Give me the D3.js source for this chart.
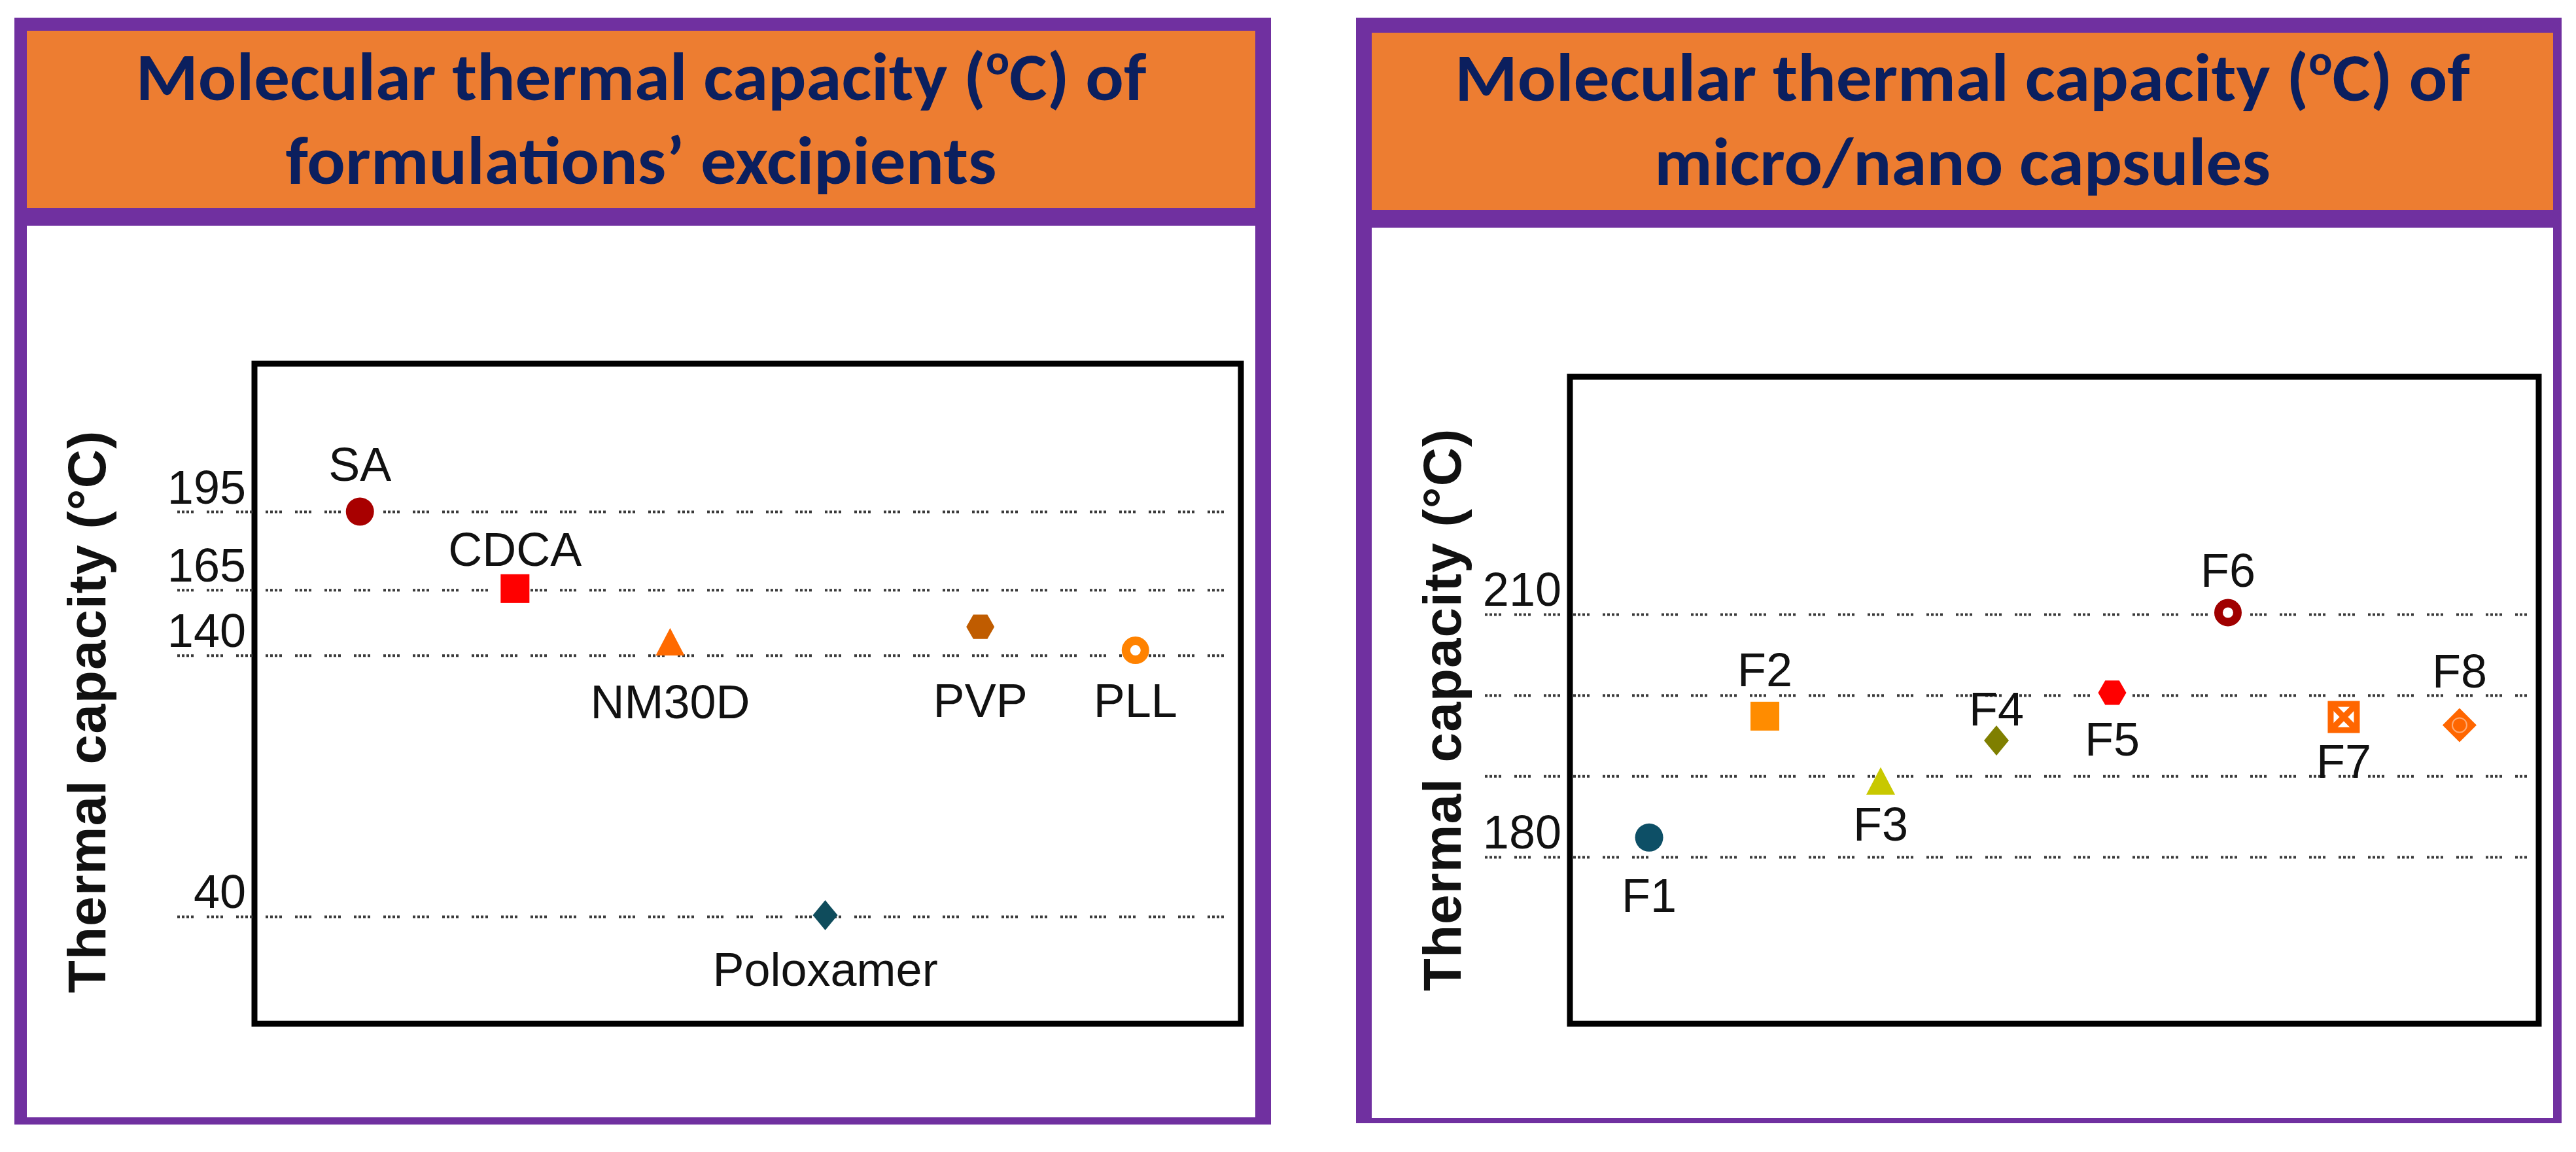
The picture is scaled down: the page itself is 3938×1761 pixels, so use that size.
<!DOCTYPE html>
<html>
<head>
<meta charset="utf-8">
<script src="https://cdn.jsdelivr.net/npm/d3@7"></script>
<style>
  body { margin: 0; background: #fff; }
  svg { display: block; }
</style>
</head>
<body>
<div id="chart"></div>
<script>
// ---- data ----
const excipientNames = ["SA", "CDCA", "NM30D", "Poloxamer", "PVP", "PLL"];
const excipientTemps = [195, 165.5, 145.2, 40.5, 150.9, 141.9];
const excipientTicks = [195, 165, 140, 40];

const capsuleNames = ["F1", "F2", "F3", "F4", "F5", "F6", "F7", "F8"];
const capsuleTemps = [182.4, 197.4, 189.4, 194.4, 200.3, 210.2, 197.3, 196.3];
const capsuleGrid = [210, 200, 190, 180];
const capsuleTickLabels = [210, 180];

const yTitle = "Thermal capacity (°C)";

// ---- marker styles (shape, colour) ----
const excipientMarkers = [
  { shape: "circle", color: "#A80000" },
  { shape: "square", color: "#FF0000" },
  { shape: "triangle", color: "#FF6A00" },
  { shape: "diamond", color: "#0F4C5C" },
  { shape: "hexagon", color: "#C05C00" },
  { shape: "ring", color: "#FF8200" }
];
const capsuleMarkers = [
  { shape: "circle", color: "#0D4F66" },
  { shape: "square", color: "#FF8C00" },
  { shape: "triangle", color: "#C8C800" },
  { shape: "diamond", color: "#7F7F00" },
  { shape: "hexagon", color: "#FF0000" },
  { shape: "ring", color: "#A00000" },
  { shape: "boxx", color: "#FF6600" },
  { shape: "diamondring", color: "#FF6600" }
];

// label baseline offsets from the marker (px)
const excipientLabelDy = [-47, -35, 117, 108, 138, 102];
const capsuleLabelDy = [114, -46, 91, -23, 96, -40, 93, -57];

const W = 3938, H = 1761;
const PURPLE = "#7030A0", ORANGE = "#ED7D31", NAVY = "#0B1F5E";

const svg = d3.select("#chart").append("svg")
  .attr("width", W).attr("height", H)
  .style("font-family", "'Liberation Sans', Arial, sans-serif");

function marker(g, shape, color) {
  const p = d3.path();
  switch (shape) {
    case "circle":
      g.append("circle").attr("r", 21.5).attr("fill", color);
      break;
    case "square":
      g.append("rect").attr("x", -22).attr("y", -22).attr("width", 44).attr("height", 44).attr("fill", color);
      break;
    case "triangle":
      p.moveTo(0, -21); p.lineTo(22, 21); p.lineTo(-22, 21); p.closePath();
      g.append("path").attr("d", p.toString()).attr("fill", color);
      break;
    case "diamond":
      p.moveTo(0, -23); p.lineTo(19, 0); p.lineTo(0, 23); p.lineTo(-19, 0); p.closePath();
      g.append("path").attr("d", p.toString()).attr("fill", color);
      break;
    case "hexagon":
      d3.range(6).forEach(i => {
        const a = i * Math.PI / 3;
        if (i === 0) p.moveTo(21.5 * Math.cos(a), 21.5 * Math.sin(a));
        else p.lineTo(21.5 * Math.cos(a), 21.5 * Math.sin(a));
      });
      p.closePath();
      g.append("path").attr("d", p.toString()).attr("fill", color);
      break;
    case "ring":
      g.append("circle").attr("r", 14.5).attr("fill", "#fff")
        .attr("stroke", color).attr("stroke-width", 13);
      break;
    case "boxx":
      g.append("rect").attr("x", -20).attr("y", -20).attr("width", 40).attr("height", 40)
        .attr("fill", "#fff").attr("stroke", color).attr("stroke-width", 9);
      g.append("path").attr("d", "M-20,-20L20,20M20,-20L-20,20")
        .attr("stroke", color).attr("stroke-width", 9);
      break;
    case "diamondring":
      p.moveTo(0, -26); p.lineTo(26, 0); p.lineTo(0, 26); p.lineTo(-26, 0); p.closePath();
      g.append("path").attr("d", p.toString()).attr("fill", color);
      g.append("circle").attr("r", 11).attr("fill", "none")
        .attr("stroke", "rgba(255,255,255,0.45)").attr("stroke-width", 2);
      break;
  }
}

function panel(cfg) {
  const g = svg.append("g");
  const [fx, fy, fw, fh] = cfg.frame;
  g.append("rect").attr("x", fx).attr("y", fy).attr("width", fw).attr("height", fh).attr("fill", PURPLE);
  const [hx, hy, hw, hh] = cfg.head;
  g.append("rect").attr("x", hx).attr("y", hy).attr("width", hw).attr("height", hh).attr("fill", ORANGE);
  const [bx, by, bw, bh] = cfg.body;
  g.append("rect").attr("x", bx).attr("y", by).attr("width", bw).attr("height", bh).attr("fill", "#fff");

  // header title
  const cx = hx + hw / 2;
  const t1 = g.append("text").attr("x", cx).attr("y", cfg.titleY[0])
    .attr("text-anchor", "middle").attr("fill", NAVY)
    .style("font-family", "Carlito, Lato, 'Open Sans', sans-serif")
    .style("font-weight", 700).style("font-size", "104px")
    .attr("textLength", cfg.titleW[0]).attr("lengthAdjust", "spacingAndGlyphs");
  t1.append("tspan").text("Molecular thermal capacity (");
  t1.append("tspan").attr("baseline-shift", "super").style("font-size", "64px").text("o");
  t1.append("tspan").text("C) of");
  g.append("text").attr("x", cx).attr("y", cfg.titleY[1])
    .attr("text-anchor", "middle").attr("fill", NAVY)
    .style("font-family", "Carlito, Lato, 'Open Sans', sans-serif")
    .style("font-weight", 700).style("font-size", "104px")
    .attr("textLength", cfg.titleW[1]).attr("lengthAdjust", "spacingAndGlyphs")
    .text(cfg.title2);

  const [x0, y0, x1, y1] = cfg.box;
  const x = d3.scalePoint().domain(cfg.names).range([x0, x1]).padding(cfg.pad);
  const y = d3.scaleLinear().domain(cfg.domain).range([y1, y0]);

  // plot frame
  g.append("rect").attr("x", x0).attr("y", y0).attr("width", x1 - x0).attr("height", y1 - y0)
    .attr("fill", "#fff").attr("stroke", "#000").attr("stroke-width", 9);

  // dotted grid lines
  const grid = g.append("g").attr("transform", `translate(${cfg.gridX[0]},0)`)
    .call(d3.axisLeft(y).tickValues(cfg.grid).tickFormat("")
      .tickSize(-(cfg.gridX[1] - cfg.gridX[0])));
  grid.select(".domain").remove();
  grid.selectAll(".tick line")
    .attr("stroke", "#3a3a3a").attr("stroke-width", 4)
    .attr("stroke-dasharray", "4,3,4,3,4,3,4,20");

  // tick labels
  const ticks = g.append("g").attr("transform", `translate(${x0 - 13},0)`)
    .call(d3.axisLeft(y).tickValues(cfg.tickLabels).tickSize(0).tickPadding(0));
  ticks.select(".domain").remove();
  ticks.selectAll("text").attr("dy", null).attr("y", -13)
    .attr("fill", "#111").style("font-size", "72px")
    .style("font-family", "'Liberation Sans', Arial, sans-serif");

  // axis title
  g.append("text")
    .attr("transform", `translate(${cfg.yTitleX},${cfg.yTitleY}) rotate(-90)`)
    .attr("text-anchor", "middle").attr("fill", "#111")
    .style("font-size", "82px").style("font-weight", 700).style("letter-spacing", "1px")
    .text(yTitle);

  // markers
  cfg.names.forEach((n, i) => {
    const m = g.append("g").attr("transform", `translate(${x(n)},${y(cfg.values[i])})`);
    marker(m, cfg.markers[i].shape, cfg.markers[i].color);
  });

  // point labels
  g.selectAll("text.pt").data(cfg.names).join("text")
    .attr("class", "pt")
    .attr("x", d => x(d))
    .attr("y", (d, i) => y(cfg.values[i]) + cfg.labelDy[i])
    .attr("text-anchor", "middle").attr("fill", "#111")
    .style("font-size", "72px")
    .text(d => d);
}

panel({
  frame: [22, 27, 1921, 1692], head: [41, 47, 1878, 271], body: [41, 345, 1878, 1363],
  titleY: [153, 281], titleW: [1545, 1087], title2: "formulations\u2019 excipients",
  box: [389, 556, 1897, 1565], pad: 0.68, domain: [-1.07, 251.6],
  gridX: [271, 1871], grid: excipientTicks, tickLabels: excipientTicks,
  yTitleX: 161, yTitleY: 1088,
  names: excipientNames, values: excipientTemps, markers: excipientMarkers, labelDy: excipientLabelDy
});

panel({
  frame: [2073, 27, 1843, 1690], head: [2097, 50, 1806, 271], body: [2097, 348, 1806, 1361],
  titleY: [154, 283], titleW: [1552, 942], title2: "micro/nano capsules",
  box: [2400, 576, 3881, 1565], pad: 0.684, domain: [159.38, 239.35],
  gridX: [2270, 3866], grid: capsuleGrid, tickLabels: capsuleTickLabels,
  yTitleX: 2233, yTitleY: 1085,
  names: capsuleNames, values: capsuleTemps, markers: capsuleMarkers, labelDy: capsuleLabelDy
});
</script>
</body>
</html>
